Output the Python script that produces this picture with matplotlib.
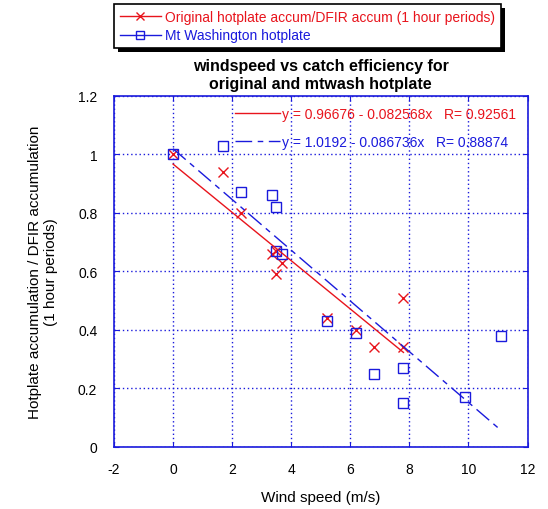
import numpy as np
import matplotlib
matplotlib.use("Agg")
from matplotlib import pyplot as plt
from matplotlib.lines import Line2D
import matplotlib.patheffects as pe

plt.rcParams['font.family'] = ['Liberation Sans', 'DejaVu Sans']
plt.rcParams['axes.unicode_minus'] = False

# original hotplate accum / DFIR accum
orig_wind = [0.0, 1.7, 2.3, 3.35, 3.5, 3.5, 3.7, 5.2, 6.2, 6.8, 7.8, 7.8]
orig_eff = [1.0, 0.94, 0.80, 0.66, 0.67, 0.59, 0.63, 0.44, 0.40, 0.34, 0.51, 0.34]

# Mt Washington hotplate
mtw_wind = [0.0, 1.7, 2.3, 3.35, 3.5, 3.5, 3.7, 5.2, 6.2, 6.8, 7.8, 7.8, 9.9, 11.1]
mtw_eff = [1.0, 1.03, 0.87, 0.86, 0.82, 0.67, 0.66, 0.43, 0.39, 0.25, 0.27, 0.15, 0.17, 0.38]

orig_fit = (0.96676, -0.082568, 0.92561)
mtw_fit = (1.0192, -0.086736, 0.88874)

red = '#e8141c'
blue = '#1a1adc'

fig = plt.figure(figsize=(5.48, 5.10), dpi=100)
ax = fig.add_axes([0.208, 0.122, 0.7546, 0.688])

ax.plot(orig_wind, orig_eff, 'x', color=red, ms=7, mew=1.0)
ax.plot(mtw_wind, mtw_eff, 's', color=blue, ms=7, mew=1.0, mfc='none')

xr = np.array([min(orig_wind), max(orig_wind)])
l1, = ax.plot(xr, orig_fit[0] + orig_fit[1] * xr, '-', color=red, lw=1)
xb = np.array([min(mtw_wind), max(mtw_wind)])
l2, = ax.plot(xb, mtw_fit[0] + mtw_fit[1] * xb, color=blue, lw=1, dashes=(12, 4, 4, 4))

fit_leg = ax.legend([l1, l2],
                    ['y = %g - %gx   R= %g' % (orig_fit[0], -orig_fit[1], orig_fit[2]),
                     'y = %g - %gx   R= %g' % (mtw_fit[0], -mtw_fit[1], mtw_fit[2])],
                    loc='upper right', frameon=False, fontsize=10, handlelength=3.2,
                    handletextpad=0.2, labelspacing=1.0, borderaxespad=0.4)
for t, c in zip(fit_leg.get_texts(), [red, blue]):
    t.set_color(c)

ax.set_xlim(-2, 12)
ax.set_ylim(0, 1.2)
ax.set_xticks(np.arange(-2, 13, 2))
ax.set_yticks(np.arange(0, 1.21, 0.2))
ax.set_yticklabels(['0', '0.2', '0.4', '0.6', '0.8', '1', '1.2'])
ax.grid(True, color=blue, linestyle=(0, (1, 2)), lw=1)
ax.tick_params(direction='in', top=True, right=True, color=blue, labelsize=10)
ax.tick_params(axis='x', pad=11)
ax.tick_params(axis='y', pad=12)
for s in ax.spines.values():
    s.set_color(blue)
    s.set_linewidth(1.2)

ax.set_xlabel('Wind speed (m/s)', fontsize=11, labelpad=10)
ax.set_ylabel('Hotplate accumulation / DFIR accumulation\n(1 hour periods)', fontsize=11, labelpad=14)
ax.set_title('windspeed vs catch efficiency for\noriginal and mtwash hotplate',
             fontsize=11.5, fontweight='bold', pad=6)

# top series legend
h1 = Line2D([], [], color=red, marker='x', lw=1, ms=6)
h2 = Line2D([], [], color=blue, marker='s', lw=1, ms=6, mfc='none')
top_leg = fig.legend([h1, h2],
                     ['Original hotplate accum/DFIR accum (1 hour periods)', 'Mt Washington hotplate'],
                     loc='upper left', bbox_to_anchor=(114 / 548, 1 - 5 / 510),
                     fontsize=10, frameon=True, fancybox=False, shadow=False, framealpha=1,
                     handlelength=3.0, handletextpad=0.3, labelspacing=0.35,
                     borderpad=0.4, borderaxespad=0)
frame = top_leg.get_frame()
frame.set_edgecolor('black')
frame.set_facecolor('white')
frame.set_linewidth(1.2)
frame.set_path_effects([pe.SimplePatchShadow(offset=(3, -3), shadow_rgbFace='black', alpha=1), pe.Normal()])
for t, c in zip(top_leg.get_texts(), [red, blue]):
    t.set_color(c)

fig.savefig('out.png', dpi=100)
